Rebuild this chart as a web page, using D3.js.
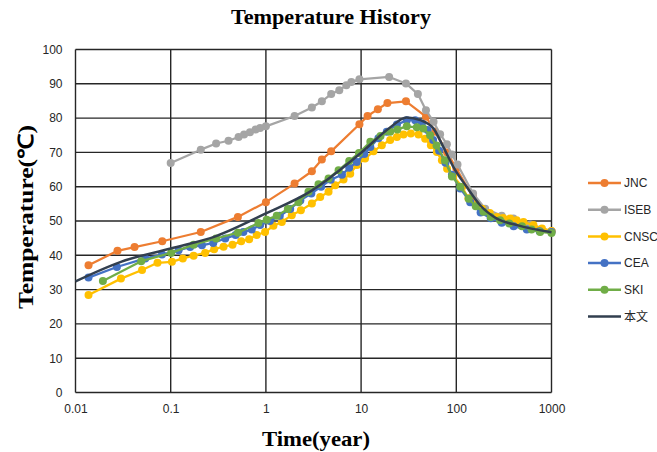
<!DOCTYPE html>
<html>
<head>
<meta charset="utf-8">
<script src="https://cdn.jsdelivr.net/npm/d3@7"></script>
<style>
  html, body { margin: 0; padding: 0; background: #fff; }
  svg { display: block; }
</style>
</head>
<body>
<svg id="chart" width="657" height="452"></svg>
<script>
// Temperature history of the buffer, time in years (log scale) vs temperature (°C)
const seriesNames = ["JNC", "ISEB", "CNSC", "CEA", "SKI", "本文"];
const seriesColors = ["#ED7D31", "#A5A5A5", "#FFC000", "#4472C4", "#70AD47", "#323F4F"];

const jncTime = [0.0137, 0.0276, 0.0417, 0.0815, 0.207, 0.508, 1.0, 2.0, 3.04, 3.87, 4.85, 9.6, 11.7, 15, 18.9, 29.6, 48, 60, 80, 100, 150, 200, 300, 500, 1000];
const jncTemp = [37.1, 41.3, 42.4, 44.1, 46.8, 51.2, 55.5, 60.9, 64.5, 67.9, 70.3, 78.2, 80.6, 82.6, 84.4, 84.9, 80.4, 76.0, 70.0, 65.3, 57.0, 53.0, 50.4, 48.6, 47.0];

const isebTime = [0.1, 0.207, 0.30, 0.405, 0.516, 0.59, 0.68, 0.78, 0.87, 1.0, 2.0, 3.04, 3.87, 4.85, 5.9, 7.0, 7.9, 9.6, 19.7, 29.6, 39.5, 48, 57.7, 67.6, 79.6, 89.9, 103, 150, 201, 300, 398, 600, 1000];
const isebTemp = [66.9, 70.8, 72.6, 73.4, 74.5, 75.2, 75.9, 76.7, 77.1, 77.6, 80.6, 83.1, 84.9, 87.0, 88.1, 89.6, 90.5, 91.3, 92.0, 90.1, 87.0, 82.3, 78.9, 75.3, 72.4, 69.4, 66.5, 58.0, 53.6, 51.5, 50.7, 49.0, 47.0];

const cnscTime = [0.0137, 0.030, 0.050, 0.0727, 0.103, 0.134, 0.174, 0.23, 0.286, 0.359, 0.446, 0.55, 0.667, 0.80, 0.98, 1.2, 1.47, 1.87, 2.33, 3.04, 3.72, 4.55, 5.35, 6.54, 7.69, 9.04, 11.0, 13.5, 16.5, 20.2, 23.8, 27.9, 33.3, 40.1, 47.1, 54.1, 62.5, 70.6, 80, 93, 115, 134, 160, 186, 225, 267, 310, 368, 430, 508, 646, 794, 1000];
const cnscTemp = [28.4, 33.2, 35.7, 37.8, 38.1, 39.1, 39.9, 40.7, 41.8, 42.5, 43.1, 44.1, 44.7, 45.9, 46.8, 48.6, 49.7, 51.7, 53.1, 55.1, 57.0, 58.5, 60.4, 62.1, 63.8, 66.3, 68.2, 70.3, 72.1, 73.6, 74.5, 75.2, 75.5, 75.2, 74.0, 72.1, 70.1, 67.7, 65.2, 63.1, 59.9, 56.6, 54.8, 53.6, 52.3, 51.2, 50.9, 50.7, 50.2, 49.7, 48.8, 47.8, 47.1];

const ceaTime = [0.0137, 0.0272, 0.054, 0.081, 0.121, 0.16, 0.213, 0.28, 0.374, 0.48, 0.58, 0.71, 0.87, 1.1, 1.4, 1.8, 2.3, 3.0, 3.8, 4.8, 6.3, 7.5, 9.0, 10.8, 12.5, 15.2, 18.6, 23.8, 30.2, 37, 43.5, 50, 57, 66, 77, 90, 110, 140, 180, 230, 300, 400, 550, 750, 1000];
const ceaTemp = [33.5, 36.6, 39.1, 40.2, 41.5, 42.4, 42.9, 43.6, 44.9, 45.9, 46.8, 47.5, 48.8, 50.0, 51.5, 53.5, 56.0, 58.0, 60.0, 62.0, 63.5, 65.5, 67.2, 69.5, 71.6, 74.1, 76.0, 78.1, 79.4, 79.4, 78.4, 76.5, 73.6, 70.5, 67.0, 63.5, 59.5, 55.5, 52.5, 50.8, 49.5, 48.5, 47.5, 47.0, 46.8];

const skiTime = [0.0194, 0.049, 0.101, 0.174, 0.30, 0.508, 0.835, 1.02, 1.3, 1.7, 2.2, 2.8, 3.57, 4.55, 5.8, 7.5, 9.5, 12.5, 16, 20.2, 24, 30.2, 38.5, 45, 53, 62, 76, 90, 110, 135, 160, 193, 230, 288, 360, 490, 617, 759, 1000];
const skiTemp = [32.5, 38.3, 40.7, 43.1, 44.9, 46.6, 49.4, 50.4, 51.5, 53.5, 55.5, 58.5, 60.7, 62.4, 64.8, 67.5, 69.8, 73.1, 74.8, 76.0, 76.7, 77.6, 77.3, 77.0, 75.0, 72.0, 67.7, 63.0, 60.0, 56.5, 54.3, 52.7, 51.2, 50.2, 49.3, 48.5, 47.5, 46.8, 46.5];

const thisTime = [0.01, 0.03, 0.1, 0.3, 1, 3, 10, 20, 30, 42, 57.5, 73, 93, 129, 178, 267, 436, 1000];
const thisTemp = [32.4, 38.1, 42.0, 45.6, 52.2, 58.8, 69.9, 77.2, 80.2, 79.4, 77.0, 71.6, 65.8, 59.9, 54.6, 50.7, 48.8, 46.7];

const xTicks = [0.01, 0.1, 1, 10, 100, 1000];
const xTickLabels = ["0.01", "0.1", "1", "10", "100", "1000"];
const yTicks = [0, 10, 20, 30, 40, 50, 60, 70, 80, 90, 100];

const seriesTimes = [jncTime, isebTime, cnscTime, ceaTime, skiTime, thisTime];
const seriesTemps = [jncTemp, isebTemp, cnscTemp, ceaTemp, skiTemp, thisTemp];
const seriesMarkers = [true, true, true, true, true, false];

const svg = d3.select("#chart");
const plot = { left: 75.5, right: 551.5, top: 49.5, bottom: 392.5 };

const x = d3.scaleLog().domain([0.01, 1000]).range([plot.left, plot.right]);
const y = d3.scaleLinear().domain([0, 100]).range([plot.bottom, plot.top]);

// Grid
const grid = svg.append("g");
grid.selectAll("line.h").data(yTicks).join("line")
  .attr("x1", plot.left).attr("x2", plot.right)
  .attr("y1", d => y(d)).attr("y2", d => y(d))
  .attr("stroke", "#262626").attr("stroke-width", 1.4);
grid.selectAll("line.v").data(xTicks).join("line")
  .attr("y1", plot.top).attr("y2", plot.bottom)
  .attr("x1", d => x(d)).attr("x2", d => x(d))
  .attr("stroke", "#262626").attr("stroke-width", 1.4);

// Axes (tick labels only)
const tickFont = "'Liberation Sans', Arial, sans-serif";
const yAxis = svg.append("g")
  .attr("transform", `translate(${plot.left},0)`)
  .call(d3.axisLeft(y).tickValues(yTicks).tickSize(0).tickPadding(13));
yAxis.select(".domain").remove();
yAxis.selectAll("text").attr("font-family", tickFont).attr("font-size", 12).attr("fill", "#262626");

const xAxis = svg.append("g")
  .attr("transform", `translate(0,${plot.bottom})`)
  .call(d3.axisBottom(x).tickValues(xTicks).tickSize(0).tickPadding(12)
    .tickFormat((d, i) => xTickLabels[i]));
xAxis.select(".domain").remove();
xAxis.selectAll("text").attr("font-family", tickFont).attr("font-size", 12).attr("fill", "#262626");

// Series
const line = d3.line().x(d => x(d[0])).y(d => y(d[1]));
const smooth = d3.line().x(d => x(d[0])).y(d => y(d[1])).curve(d3.curveMonotoneX);

seriesNames.forEach((name, i) => {
  const pts = seriesTimes[i].map((t, j) => [t, seriesTemps[i][j]]);
  const g = svg.append("g");
  g.append("path")
    .attr("d", seriesMarkers[i] ? line(pts) : smooth(pts))
    .attr("fill", "none")
    .attr("stroke", seriesColors[i])
    .attr("stroke-width", seriesMarkers[i] ? 2.25 : 2.5)
    .attr("stroke-linejoin", "round");
  if (seriesMarkers[i]) {
    g.selectAll("circle").data(pts).join("circle")
      .attr("cx", d => x(d[0])).attr("cy", d => y(d[1]))
      .attr("r", 4).attr("fill", seriesColors[i]);
  }
});

// Legend
const legend = svg.append("g");
seriesNames.forEach((name, i) => {
  const ly = 183 + i * 26.7;
  legend.append("line")
    .attr("x1", 588).attr("x2", 621).attr("y1", ly).attr("y2", ly)
    .attr("stroke", seriesColors[i]).attr("stroke-width", 2.5);
  if (seriesMarkers[i]) {
    legend.append("circle").attr("cx", 604.5).attr("cy", ly).attr("r", 4).attr("fill", seriesColors[i]);
  }
  legend.append("text")
    .attr("x", 624).attr("y", ly).attr("dy", "0.35em")
    .attr("font-family", "'Liberation Sans', 'Noto Sans CJK SC', sans-serif")
    .attr("font-size", 12).attr("fill", "#262626")
    .text(name);
});

// Titles
const serif = "'Liberation Serif', 'Times New Roman', serif";
svg.append("text")
  .attr("x", 331).attr("y", 24)
  .attr("text-anchor", "middle")
  .attr("font-family", serif).attr("font-weight", "bold").attr("font-size", 22)
  .attr("fill", "#000")
  .attr("textLength", 200).attr("lengthAdjust", "spacingAndGlyphs")
  .text("Temperature History");

svg.append("text")
  .attr("x", 316).attr("y", 446)
  .attr("text-anchor", "middle")
  .attr("font-family", serif).attr("font-weight", "bold").attr("font-size", 22)
  .attr("fill", "#000")
  .attr("textLength", 108).attr("lengthAdjust", "spacingAndGlyphs")
  .text("Time(year)");

svg.append("text")
  .attr("transform", "translate(33,217) rotate(-90)")
  .attr("text-anchor", "middle")
  .attr("font-family", serif).attr("font-weight", "bold").attr("font-size", 21)
  .attr("fill", "#000")
  .attr("textLength", 184).attr("lengthAdjust", "spacingAndGlyphs")
  .text("Temperature(℃)");
</script>
</body>
</html>
